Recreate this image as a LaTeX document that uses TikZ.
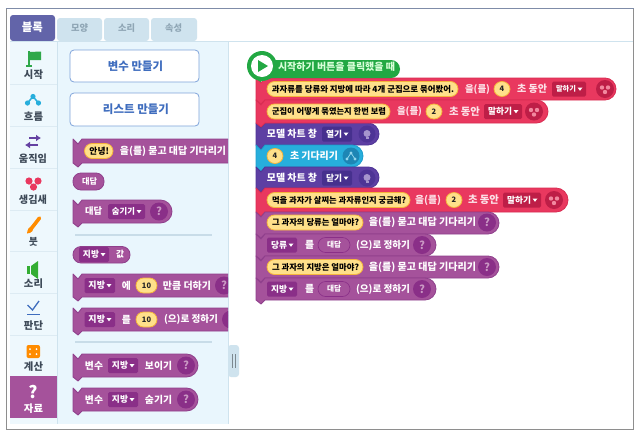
\documentclass[tikz,border=0pt]{standalone}
\usepackage{fontspec}
\usepackage{graphicx}
\usetikzlibrary{shapes.geometric,arrows.meta}
\newfontfamily\kr{Noto Sans CJK KR}
\definecolor{tabblue}{HTML}{CFE3EE}
\definecolor{tabtxt}{HTML}{8FA6B5}
\definecolor{tabsel}{HTML}{6264A9}
\definecolor{palbg}{HTML}{E9F6FD}
\definecolor{catbg}{HTML}{EEF8FD}
\definecolor{sepc}{HTML}{C8DCE8}
\definecolor{btnline}{HTML}{7FA3DA}
\definecolor{btntxt}{HTML}{3F6DBE}
\definecolor{pur}{HTML}{A5529B}
\definecolor{purb}{HTML}{8F3F8C}
\definecolor{purd}{HTML}{8A2F88}
\definecolor{rd}{HTML}{E9385F}
\definecolor{rdb}{HTML}{D92C52}
\definecolor{rdd}{HTML}{BE1E47}
\definecolor{dpur}{HTML}{5D3FA3}
\definecolor{dpurb}{HTML}{4E3496}
\definecolor{dpurd}{HTML}{46308E}
\definecolor{cyanb}{HTML}{27AEDC}
\definecolor{cyanbb}{HTML}{1C9CCB}
\definecolor{cyand}{HTML}{1D86B5}
\definecolor{grn}{HTML}{22A843}
\definecolor{flag}{HTML}{2FA84A}
\definecolor{pillf}{HTML}{FFE08A}
\definecolor{pillb}{HTML}{F5B53C}
\definecolor{ctxt}{HTML}{3E4A58}
\definecolor{frameg}{HTML}{8E8E8E}
\definecolor{frameb}{HTML}{7F8CA8}
\tikzset{
  x=1pt,y=-1pt,
  lab/.style={inner sep=0pt,outer sep=0pt,font=\kr\bfseries\fontsize{8}{8}\selectfont},
}
% text fitted into x0..x1, centred on y
\newcommand\tw[5][white]{%
  \pgfmathsetmacro\twd{#3-(#2)}%
  \pgfmathsetmacro\mx{(#2+#3)/2}%
  \node[lab,text=#1] at (\mx,#4) {\resizebox{\twd pt}{!}{#5}};}
% stack block: x0 x1 y0 y1 fill border
\newcommand\blk[6]{%
  \pgfmathsetmacro\rr{(#4-#3)/2}%
  \draw[fill=#5,draw=#6,line width=.8pt,line join=round]
    (#1,#3) -- (#1+5,#3+5) -- (#1+9,#3) -- (#2-\rr,#3)
    arc[start angle=90,end angle=-90,radius=\rr pt]
    -- (#1+9,#4) -- (#1+5,#4+4) -- (#1,#4) -- cycle;}
\newcommand\pill[4]{% x0 x1 y text
  \pgfmathsetmacro\pw{#2-#1}%
  \pgfmathsetmacro\mx{(#1+#2)/2}%
  \node[draw=pillb,fill=pillf,line width=.8pt,rounded corners=7.5pt,minimum width=\pw pt,minimum height=15pt,inner sep=0pt] at (\mx,#3) {};
  \tw[black]{#1+5}{#2-4}{#3}{#4}}
\newcommand\numb[3]{% cx y text
  \node[draw=pillb,fill=pillf,line width=.8pt,ellipse,minimum width=16pt,minimum height=15pt,inner sep=0pt,lab,text=black!85] at (#1,#2) {\fontsize{7.5}{8}\selectfont #3};}
\newcommand\numw[3]{% x0 x1 y: the number 10
  \pgfmathsetmacro\pw{#2-#1}%
  \pgfmathsetmacro\mx{(#1+#2)/2}%
  \node[draw=pillb,fill=pillf,line width=.8pt,rounded corners=7.5pt,minimum width=\pw pt,minimum height=15pt,inner sep=0pt,lab,text=black!85] at (\mx,#3) {\fontsize{7.5}{8}\selectfont 10};}
\newcommand\ddn[5]{% x0 x1 y text fill
  \fill[#5,rounded corners=1.5pt] (#1,#3-7.5) rectangle (#2,#3+7.5);
  \tw{#1+4}{#2-10}{#3}{#4}
  \fill[white] (#2-8.5,#3-1.5) -- (#2-3.5,#3-1.5) -- (#2-6,#3+1.8) -- cycle;}
\newcommand\rep[3]{% x0 x1 y: reporter outline inside a block
  \draw[purd,line width=.6pt,rounded corners=7.5pt] (#1,#3-7.5) rectangle (#2,#3+7.5);
  \tw{#1+9}{#2-9}{#3}{대답}}
\newcommand\qm[2]{% cx y
  \fill[purd] (#1,#2) circle[radius=9pt];
  \node[lab,text=pur!60!white] at (#1,#2) {\fontsize{11}{11}\selectfont ?};}
\newcommand\looks[2]{% cx y : three-dot icon in circle
  \fill[rdd] (#1,#2) circle[radius=9pt];
  \fill[rd!60!white] (#1-3,#2-1.5) circle[radius=2.2pt] (#1+3,#2-1.5) circle[radius=2.2pt] (#1,#2+3) circle[radius=2.2pt];}
\newcommand\aicon[2]{% cx y : AI model icon
  \fill[dpurb] (#1,#2) circle[radius=8.5pt];
  \fill[dpur!55!white] (#1,#2-.5) circle[radius=3.5pt];
  \fill[dpur!55!white] (#1-1.5,#2+2.5) rectangle (#1+1.5,#2+4.5);}
\begin{document}
\begin{tikzpicture}
\useasboundingbox (0,0) rectangle (641,440);
\fill[white] (0,0) rectangle (641,440);
% frame
\draw[draw=frameg,line width=1pt] (6,8) -- (6,429) -- (633.5,429) -- (633.5,8);
\draw[draw=frameb,line width=1pt] (6,8) -- (633.5,8);
% tabs
\fill[tabsel,rounded corners=3pt] (10,41) -- (10,15) -- (55,15) -- (55,41) -- cycle;
\foreach \a/\b in {57/102,104/149,151/197}{\fill[tabblue,rounded corners=3pt] (\a,41) -- (\a,18) -- (\b,18) -- (\b,41) -- cycle;}
\tw{22}{43}{27.5}{블록}
\tw[tabtxt]{71}{88}{28.5}{모양}
\tw[tabtxt]{118}{135}{28.5}{소리}
\tw[tabtxt]{165}{182}{28.5}{속성}
\draw[tabblue,line width=.7pt] (10,41.5) -- (633,41.5);
% panels
\fill[catbg] (10,42) rectangle (57,424);
\fill[palbg] (58,42) rectangle (228,424);
\draw[tabblue,line width=.7pt] (57.5,42) -- (57.5,424) (228,42) -- (228,424);
\foreach \y in {84,126,168,210,251,293,335}{\draw[tabblue!70,line width=.7pt] (10,\y) -- (57,\y);}
\fill[pur] (10,376) rectangle (57,418);
% category icons and labels
% flag
\fill[flag] (27.5,51) rectangle (29.5,66);
\fill[flag] (25.5,65) rectangle (31.5,66.5);
\fill[flag] (29.5,52) -- (41,51.5) -- (41,60) -- (29.5,60) -- cycle;
\tw[ctxt]{24}{43}{75}{시작}
% flow
\draw[cyanb,line width=1.5pt] (27.5,103) -- (33,96.5) -- (38.5,103);
\fill[cyanb] (33,96.5) circle[radius=2.6pt] (27.5,103) circle[radius=2.6pt] (38.5,103) circle[radius=2.6pt];
\tw[ctxt]{24}{43}{117}{흐름}
% moves
\draw[dpur!90!pur,line width=2pt,-{Latex[length=5pt,width=7pt]}] (29,138) -- (41,138);
\draw[dpur!90!pur,line width=2pt,-{Latex[length=5pt,width=7pt]}] (38,145) -- (25,145);
\tw[ctxt]{19}{47}{159}{움직임}
% looks
\fill[rd] (29,181) circle[radius=3.6pt] (38,181) circle[radius=3.6pt] (33.5,187) circle[radius=3.6pt];
\tw[ctxt]{19}{47}{200}{생김새}
% brush
\draw[orange!90!yellow,line width=3.6pt,line cap=round] (39.5,218) -- (31,229);
\fill[orange!90!yellow] (27,233.5) .. controls (27.5,229) and (29,227) .. (31,226.5) .. controls (33,227) and (33.5,229) .. (32.5,231) .. controls (31.5,232.5) and (29,233.5) .. (27,233.5) -- cycle;
\tw[ctxt]{29}{38}{241.5}{붓}
% sound
\fill[green!60!black!80!white] (27,266) rectangle (30,274);
\fill[green!60!black!80!white] (31,266) -- (38,261) -- (38,279) -- (31,274) -- cycle;
\tw[ctxt]{24}{43}{284}{소리}
% judge
\draw[btntxt,line width=1.3pt] (27.5,305) -- (32.5,310) -- (39,301);
\draw[btntxt,line width=1.3pt] (27,314.5) -- (40,314.5);
\tw[ctxt]{24}{43}{326}{판단}
% calc
\fill[orange!90!yellow,rounded corners=2pt] (26.5,345) rectangle (40,358);
\fill[white] (30,349) circle[radius=1pt] (36.5,349) circle[radius=1pt] (30,354) circle[radius=1pt] (36.5,354) circle[radius=1pt];
\tw[ctxt]{24}{43}{367}{계산}
% data
\node[lab,text=white] at (33,392) {\fontsize{17}{17}\selectfont ?};
\tw{24}{43}{409}{자료}
% buttons
\foreach \y/\b in {50/82,93/126}{\draw[btnline,fill=white,line width=.8pt,rounded corners=4pt] (70,\y) rectangle (199,\b);}
\tw[btntxt]{108}{163}{66}{변수 만들기}
\tw[btntxt]{103}{169}{109}{리스트 만들기}
% palette blocks
\begin{scope}
\clip (58,42) rectangle (228,424);
\blk{73}{240}{139}{163}{pur}{purb}
\pill{84.5}{113}{151}{안녕!}
\tw{120}{226}{151}{을(를) 묻고 대답 기다리기}
\fill[pur,draw=purb,line width=.8pt,rounded corners=8pt] (73,173) rectangle (104,190);
\tw{82}{97}{181.5}{대답}
\blk{73}{172}{200}{223}{pur}{purb}
\tw{85}{102}{211.5}{대답}
\ddn{108}{145}{211.5}{숨기기}{purd}
\qm{159}{211.5}
\draw[sepc,line width=1.2pt] (75,235) -- (212,235);
\fill[pur,draw=purb,line width=.8pt,rounded corners=8pt] (73,246.5) rectangle (130,263);
\ddn{79}{109}{254.5}{지방}{purd}
\tw{116}{124}{254.5}{값}
\blk{73}{240}{274}{297}{pur}{purb}
\ddn{84.5}{115}{285.5}{지방}{purd}
\tw{122}{131}{285.5}{에}
\numw{136}{157}{285.5}
\tw{163}{211}{285.5}{만큼 더하기}
\qm{224}{285.5}
\blk{73}{250}{308}{331}{pur}{purb}
\ddn{84.5}{115}{319.5}{지방}{purd}
\tw{122}{131}{319.5}{를}
\numw{136}{157}{319.5}
\tw{164}{218}{319.5}{(으)로 정하기}
\qm{231}{319.5}
\draw[sepc,line width=1.2pt] (75,342) -- (212,342);
\blk{73}{198}{354}{377}{pur}{purb}
\tw{85}{103}{365.5}{변수}
\ddn{108}{138}{365.5}{지방}{purd}
\tw{145}{172}{365.5}{보이기}
\qm{186}{365.5}
\blk{73}{198}{388}{411}{pur}{purb}
\tw{85}{103}{399.5}{변수}
\ddn{108}{138}{399.5}{지방}{purd}
\tw{145}{172}{399.5}{숨기기}
\qm{186}{399.5}
\end{scope}
% scroll handle
\fill[tabblue,rounded corners=3pt] (228,345) -- (239,345) -- (239,377) -- (228,377) -- cycle;
\draw[black!40!tabblue,line width=.6pt] (232,354) -- (232,368) (235,354) -- (235,368);
% main stack
\blk{256}{379}{123}{145}{dpur}{dpurb}
\blk{256}{363}{145}{167}{cyanb}{cyanbb}
\blk{256}{379}{167}{188}{dpur}{dpurb}
\blk{256}{616}{78}{100}{rd}{rdb}
\blk{256}{548}{100}{123}{rd}{rdb}
\blk{256}{568}{188}{212}{rd}{rdb}
\blk{256}{499}{212}{234}{pur}{purb}
\blk{256}{436}{234}{256}{pur}{purb}
\blk{256}{499}{256}{278}{pur}{purb}
\blk{256}{436}{278}{300}{pur}{purb}
% hat
\fill[grn,rounded corners=9pt] (256,60) -- (400,60) -- (400,78) -- (256,78) -- cycle;
\fill[grn] (256,70) -- (265,78) -- (260.5,82) -- (256,78) -- cycle;
\fill[grn] (262,66) circle[radius=15pt];
\fill[white] (262,66) circle[radius=11pt];
\fill[grn] (258,60) -- (268,66) -- (258,72) -- cycle;
\tw[green!15!white]{278}{395}{67}{시작하기 버튼을 클릭했을 때}
% red 1
\pill{267}{458}{89}{과자류를 당류와 지방에 따라 4개 군집으로 묶어봤어.}
\tw[white!85!rd]{465}{490}{89}{을(를)}
\numb{502}{89}{4}
\tw[white!85!rd]{517}{547}{89}{초 동안}
\ddn{552}{586}{89}{말하기}{rdd}
\looks{605}{89}
% red 2
\pill{267}{390}{111.5}{군집이 어떻게 묶였는지 한번 보렴}
\tw[white!85!rd]{397}{422}{111.5}{을(를)}
\numb{434}{111.5}{2}
\tw[white!85!rd]{449}{480}{111.5}{초 동안}
\ddn{484}{522}{111.5}{말하기}{rdd}
\looks{534}{111.5}
% model open
\tw{267}{317}{134}{모델 차트 창}
\ddn{322}{352}{134}{열기}{dpurd}
\aicon{367}{134}
% wait
\numb{275}{156}{4}
\tw{290}{338}{156}{초 기다리기}
\fill[cyand] (351,156) circle[radius=8.5pt];
\draw[cyanb!50!white,line width=.8pt] (347,159) -- (351,153) -- (355,159);
\fill[cyanb!50!white] (351,153) circle[radius=1.6pt] (347,159) circle[radius=1.6pt] (355,159) circle[radius=1.6pt];
% model close
\tw{267}{317}{178}{모델 차트 창}
\ddn{322}{352}{178}{닫기}{dpurd}
\aicon{367}{178}
% red 3
\pill{267}{410}{200}{먹을 과자가 살찌는 과자류인지 궁금해?}
\tw[white!85!rd]{415}{441}{200}{을(를)}
\numb{454}{200}{2}
\tw[white!85!rd]{468}{499}{200}{초 동안}
\ddn{503}{541}{200}{말하기}{rdd}
\looks{554}{200}
% ask 1
\pill{267}{363}{222.5}{그 과자의 당류는 얼마야?}
\tw{369}{476}{222.5}{을(를) 묻고 대답 기다리기}
\qm{487}{222.5}
% set 1
\ddn{267}{297}{245}{당류}{purd}
\tw{305}{314}{245}{를}
\rep{318}{350}{245}
\tw{356}{410}{245}{(으)로 정하기}
\qm{422}{245}
% ask 2
\pill{267}{363}{267}{그 과자의 지방은 얼마야?}
\tw{369}{476}{267}{을(를) 묻고 대답 기다리기}
\qm{487}{267}
% set 2
\ddn{267}{297}{289}{지방}{purd}
\tw{305}{314}{289}{를}
\rep{318}{350}{289}
\tw{356}{410}{289}{(으)로 정하기}
\qm{422}{289}
\end{tikzpicture}
\end{document}
